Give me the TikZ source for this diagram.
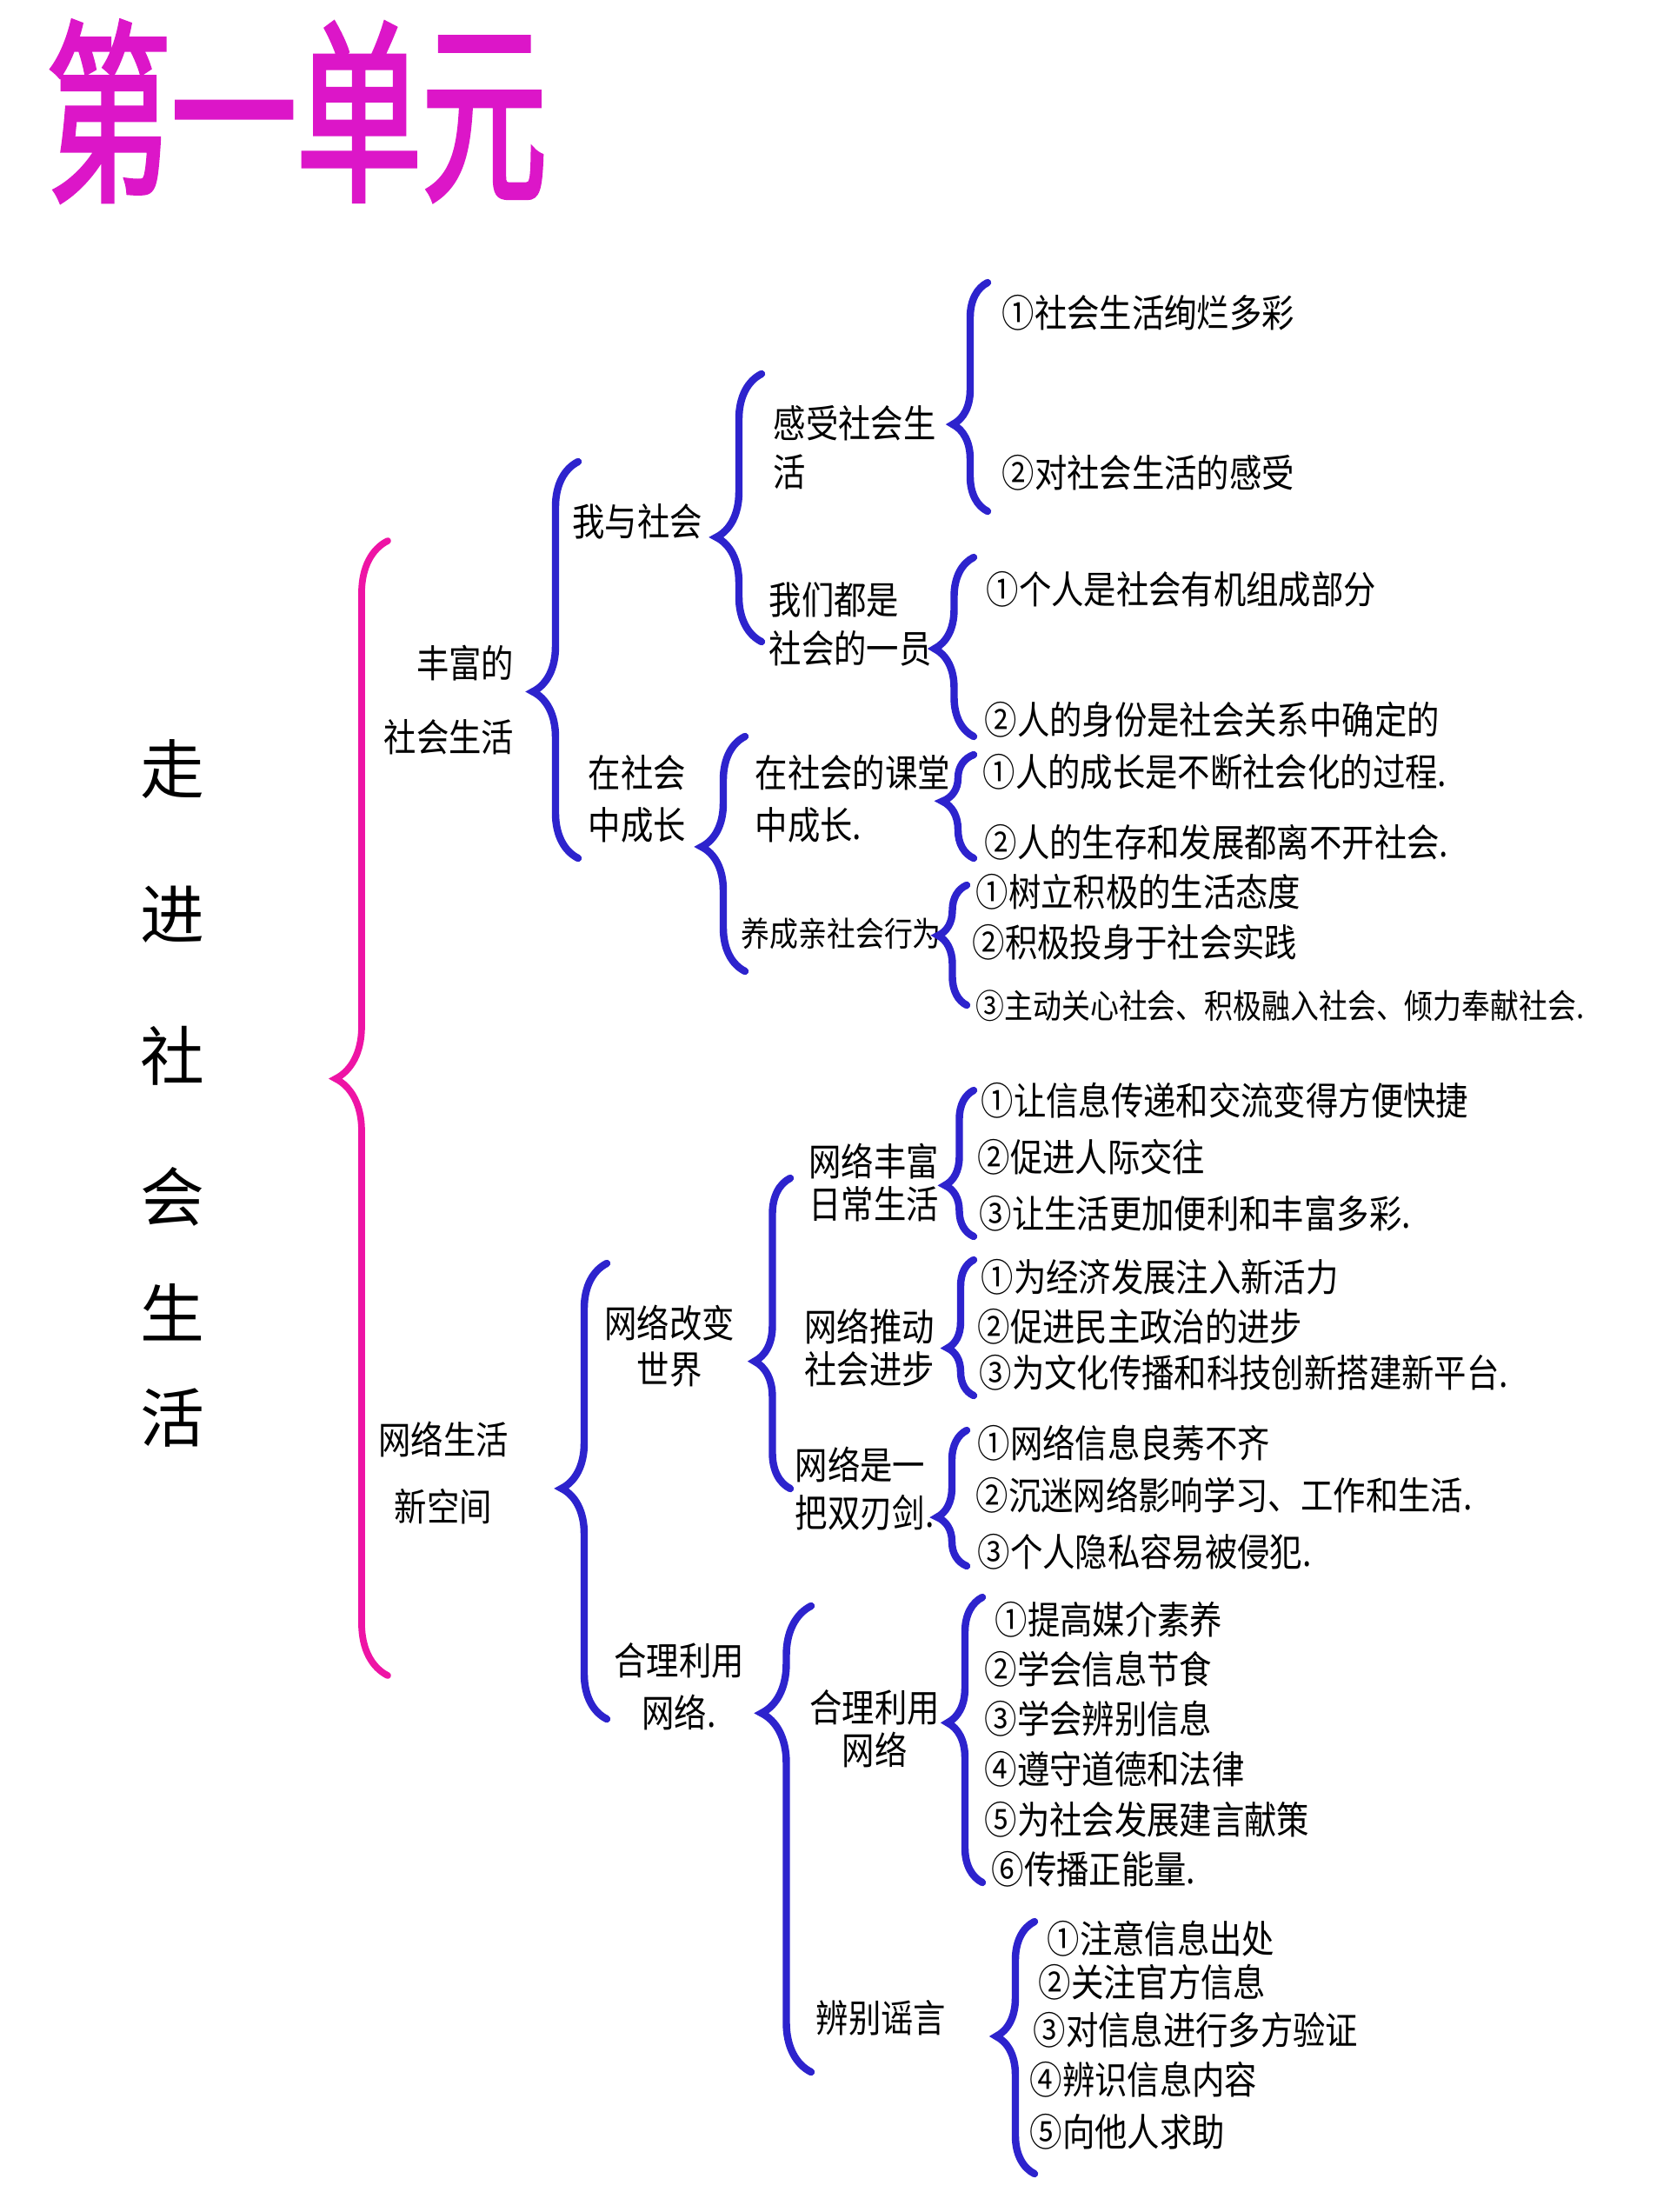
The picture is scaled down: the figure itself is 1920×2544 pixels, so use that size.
\documentclass[tikz,border=0pt]{standalone}
\usepackage{fontspec}
\usepackage{tikz}
\usetikzlibrary{decorations.pathreplacing}

\newfontfamily\cjk[FakeStretch=0.85]{Noto Sans CJK SC}
\newfontfamily\cjkroot{Noto Sans CJK SC}
\newfontfamily\cjktitle[FakeStretch=0.64,FakeBold=2]{Noto Sans CJK SC}

\definecolor{titlepink}{RGB}{220,22,200}
\definecolor{bracepink}{RGB}{238,20,165}
\definecolor{braceblue}{RGB}{45,35,205}

\tikzset{
  leaf/.style={anchor=west, inner sep=0pt, font=\cjk\fontsize{12.5}{15}\selectfont},
  topic/.style={inner sep=0pt, align=center, font=\cjk\fontsize{12.5}{#1}\selectfont},
  topic/.default=16pt,
  bluebrace/.style={draw=braceblue, line width=2.4pt, line cap=round, decorate, decoration={brace, amplitude=#1}},
  pinkbrace/.style={draw=bracepink, line width=2.2pt, line cap=round, decorate, decoration={brace, amplitude=#1}}
}

\begin{document}
\begin{tikzpicture}[x=0.01cm, y=-0.01cm]
    \useasboundingbox[fill=white] (0,0) rectangle (1920,2544);

    % title and root
    \node[font=\cjktitle\fontsize{64}{64}\selectfont, text=titlepink, inner sep=0pt] (title) at (341,128) {第一单元};
    \foreach \ch/\yy [count=\i] in {走/885, 进/1052, 社/1214, 会/1376, 生/1509, 活/1631}
        \node[font=\cjkroot\fontsize{21}{21}\selectfont, inner sep=0pt] (root\i) at (198,\yy) {\ch};

    \coordinate (rootT) at (446,622);
    \coordinate (rootB) at (446,1927);
    \draw[pinkbrace=0.6cm, decoration={aspect=0.526}] (rootB) -- (rootT);

    % first level
    \node[topic=24pt, align=right, anchor=east] (life) at (592,805) {丰富的\\社会生活};
    \node[topic=22pt] (net) at (510,1694) {网络生活\\新空间};

    \coordinate (lifeT) at (665,531);
    \coordinate (lifeB) at (665,987);
    \draw[bluebrace=0.52cm, decoration={aspect=0.42}] (lifeB) -- (lifeT);
    \coordinate (netT) at (698,1453);
    \coordinate (netB) at (698,1977);
    \draw[bluebrace=0.52cm, decoration={aspect=0.506}] (netB) -- (netT);

    % second level
    \node[topic] (self) at (733,600) {我与社会};
    \node[topic=17pt] (grow) at (733,919) {在社会\\中成长};
    \node[topic=15pt] (change) at (770,1548) {网络改变\\世界};
    \node[topic=17pt] (use) at (781,1940) {合理利用\\网络.};

    \coordinate (selfT) at (876,430);
    \coordinate (selfB) at (876,738);
    \draw[bluebrace=0.52cm, decoration={aspect=0.39}] (selfB) -- (selfT);
    \coordinate (growT) at (857,847);
    \coordinate (growB) at (857,1117);
    \draw[bluebrace=0.5cm, decoration={aspect=0.53}] (growB) -- (growT);
    \coordinate (changeT) at (909,1355);
    \coordinate (changeB) at (909,1712);
    \draw[bluebrace=0.41cm, decoration={aspect=0.41}] (changeB) -- (changeT);
    \coordinate (useT) at (933,1847);
    \coordinate (useB) at (933,2383);
    \draw[bluebrace=0.57cm, decoration={aspect=0.77}] (useB) -- (useT);

    % third level
    \node[topic, align=left, anchor=west] (feel) at (889,515) {感受社会生\\活};
    \node[topic, align=left, anchor=west] (member) at (884,718) {我们都是\\社会的一员};
    \node[topic=17pt, align=left, anchor=west] (class) at (868,919) {在社会的课堂\\中成长.};
    \node[topic, anchor=west, font=\cjk\fontsize{11}{13}\selectfont] (prosocial) at (852,1074) {养成亲社会行为};
    \node[topic=14pt] (daily) at (1005,1360) {网络丰富\\日常生活};
    \node[topic=14pt] (progress) at (1000,1550) {网络推动\\社会进步};
    \node[topic=15.5pt, align=left, anchor=west] (sword) at (914,1712) {网络是一\\把双刃剑.};
    \node[topic=14pt] (wise) at (1006,1988) {合理利用\\网络};
    \node[topic, anchor=west] (rumor) at (938,2321) {辨别谣言};

    \coordinate (feelT) at (1136,325);
    \coordinate (feelB) at (1136,588);
    \draw[bluebrace=0.4cm, decoration={aspect=0.38}] (feelB) -- (feelT);
    \coordinate (memberT) at (1120,641);
    \coordinate (memberB) at (1120,847);
    \draw[bluebrace=0.45cm, decoration={aspect=0.49}] (memberB) -- (memberT);
    \coordinate (classT) at (1120,868);
    \coordinate (classB) at (1120,987);
    \draw[bluebrace=0.36cm, decoration={aspect=0.55}] (classB) -- (classT);
    \coordinate (prosocialT) at (1112,1018);
    \coordinate (prosocialB) at (1112,1156);
    \draw[bluebrace=0.33cm, decoration={aspect=0.58}] (prosocialB) -- (prosocialT);
    \coordinate (dailyT) at (1120,1254);
    \coordinate (dailyB) at (1120,1422);
    \draw[bluebrace=0.33cm, decoration={aspect=0.35}] (dailyB) -- (dailyT);
    \coordinate (progressT) at (1120,1449);
    \coordinate (progressB) at (1120,1605);
    \draw[bluebrace=0.3cm, decoration={aspect=0.35}] (progressB) -- (progressT);
    \coordinate (swordT) at (1112,1645);
    \coordinate (swordB) at (1112,1801);
    \draw[bluebrace=0.34cm, decoration={aspect=0.36}] (swordB) -- (swordT);
    \coordinate (wiseT) at (1130,1837);
    \coordinate (wiseB) at (1130,2165);
    \draw[bluebrace=0.4cm, decoration={aspect=0.56}] (wiseB) -- (wiseT);
    \coordinate (rumorT) at (1190,2210);
    \coordinate (rumorB) at (1190,2500);
    \draw[bluebrace=0.44cm, decoration={aspect=0.545}] (rumorB) -- (rumorT);

    % leaves
    \foreach \txt/\xx/\yy [count=\i] in {①社会生活绚烂多彩/1152/360, ②对社会生活的感受/1152/544}
        \node[leaf] (feel\i) at (\xx,\yy) {\txt};
    \foreach \txt/\xx/\yy [count=\i] in {①个人是社会有机组成部分/1134/678, ②人的身份是社会关系中确定的/1132/828}
        \node[leaf] (member\i) at (\xx,\yy) {\txt};
    \foreach \txt/\xx/\yy [count=\i] in {①人的成长是不断社会化的过程./1130/888, ②人的生存和发展都离不开社会./1132/969}
        \node[leaf] (class\i) at (\xx,\yy) {\txt};
    \foreach \txt/\xx/\yy [count=\i] in {①树立积极的生活态度/1122/1026, ②积极投身于社会实践/1118/1084}
        \node[leaf] (prosocial\i) at (\xx,\yy) {\txt};
    \node[leaf, font=\cjk\fontsize{11}{13}\selectfont] (prosocial3) at (1122,1157) {③主动关心社会、积极融入社会、倾力奉献社会.};
    \foreach \txt/\xx/\yy [count=\i] in {①让信息传递和交流变得方便快捷/1128/1266, ②促进人际交往/1124/1331, ③让生活更加便利和丰富多彩./1126/1396}
        \node[leaf] (daily\i) at (\xx,\yy) {\txt};
    \foreach \txt/\xx/\yy [count=\i] in {①为经济发展注入新活力/1128/1469, ②促进民主政治的进步/1124/1526, ③为文化传播和科技创新搭建新平台./1126/1579}
        \node[leaf] (progress\i) at (\xx,\yy) {\txt};
    \foreach \txt/\xx/\yy [count=\i] in {①网络信息良莠不齐/1124/1660, ②沉迷网络影响学习、工作和生活./1122/1720, ③个人隐私容易被侵犯./1124/1785}
        \node[leaf] (sword\i) at (\xx,\yy) {\txt};
    \foreach \txt/\xx/\yy [count=\i] in {①提高媒介素养/1144/1863, ②学会信息节食/1132/1920, ③学会辨别信息/1132/1977, ④遵守道德和法律/1132/2035, ⑤为社会发展建言献策/1132/2093, ⑥传播正能量./1140/2150}
        \node[leaf] (wise\i) at (\xx,\yy) {\txt};
    \foreach \txt/\xx/\yy [count=\i] in {①注意信息出处/1204/2230, ②关注官方信息/1194/2280, ③对信息进行多方验证/1188/2335, ④辨识信息内容/1184/2392, ⑤向他人求助/1184/2452}
        \node[leaf] (rumor\i) at (\xx,\yy) {\txt};
\end{tikzpicture}
\end{document}
